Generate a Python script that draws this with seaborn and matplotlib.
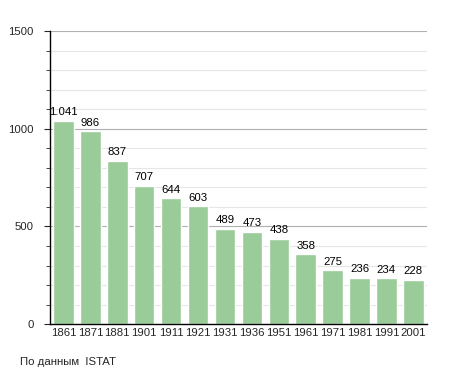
import matplotlib
matplotlib.use("Agg")
import matplotlib.pyplot as plt
import seaborn as sns
import pandas as pd
from matplotlib.ticker import MultipleLocator

years = ["1861", "1871", "1881", "1901", "1911", "1921", "1931", "1936", "1951", "1961", "1971", "1981", "1991", "2001"]
population = [1041, 986, 837, 707, 644, 603, 489, 473, 438, 358, 275, 236, 234, 228]
labels = ["1.041", "986", "837", "707", "644", "603", "489", "473", "438", "358", "275", "236", "234", "228"]

sns.set_style("white")
plt.rcParams['font.family'] = ['Liberation Sans', 'DejaVu Sans']

df = pd.DataFrame({"year": years, "pop": population})
fig = plt.figure(figsize=(4.55, 3.73), dpi=100)
ax = fig.add_axes([0.110, 0.131, 0.828, 0.786])

ax.set_ylim(0, 1500)
ax.yaxis.set_major_locator(MultipleLocator(500))
ax.yaxis.set_minor_locator(MultipleLocator(100))
ax.grid(which='minor', axis='y', color='#e6e6e6', linewidth=0.8)
ax.grid(which='major', axis='y', color='#b0b0b0', linewidth=0.8)
ax.set_axisbelow(True)

sns.barplot(data=df, x="year", y="pop", color="#99cc99", saturation=1, width=0.76, ax=ax)
ax.set_xlim(-0.5, len(years) - 0.5)

for i, (v, t) in enumerate(zip(population, labels)):
    ax.text(i, v + 18, t, ha='center', va='bottom', fontsize=8.2, color='black')

for s in ['top', 'right']:
    ax.spines[s].set_visible(False)
ax.spines['left'].set_color('black')
ax.spines['bottom'].set_color('black')
ax.spines['left'].set_linewidth(1)
ax.spines['bottom'].set_linewidth(1)
ax.tick_params(axis='y', which='major', length=4, labelsize=8.2, left=True, direction='out', pad=8)
ax.tick_params(axis='y', which='minor', length=3, left=True, direction='out')
ax.tick_params(axis='x', length=0, labelsize=8.2, pad=3)
ax.set_xlabel("")
ax.set_ylabel("")

fig.text(20 / 455, 1 - 362 / 373, "По данным  ISTAT", fontsize=8.2, va='center', ha='left')

fig.savefig("out.png", dpi=100)
